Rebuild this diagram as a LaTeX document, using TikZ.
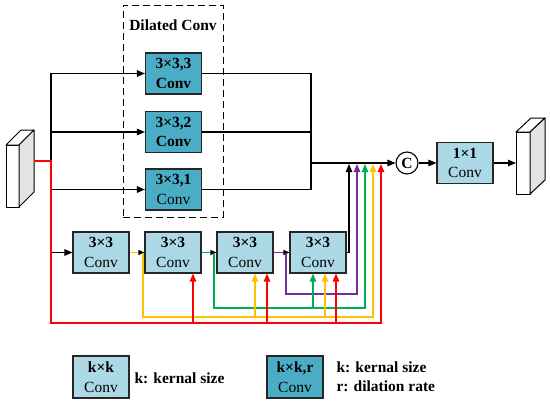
\documentclass[tikz,border=0pt]{standalone}
\usepackage{fontspec}
\setmainfont{Liberation Serif}
\usetikzlibrary{arrows.meta,calc}
\definecolor{lightc}{HTML}{ADD8E6}
\definecolor{darkc}{HTML}{4BACC6}
\definecolor{lred}{HTML}{FF0000}
\definecolor{lyel}{HTML}{FFC000}
\definecolor{lgreen}{HTML}{00B050}
\definecolor{lpurp}{HTML}{7030A0}
\newcommand{\boxfont}{\fontsize{15.5}{19.5}\selectfont}
\newcommand{\labfont}{\fontsize{15.5}{19}\selectfont\bfseries}
\tikzset{
  lbox/.style={draw=black!85, line width=1.1pt, fill=lightc, minimum width=56pt, minimum height=41pt, inner sep=0pt, align=center, font=\boxfont},
  dbox/.style={lbox, fill=darkc},
  ln/.style={line width=1.2pt},
  ar/.style={ln, -{Triangle[length=8pt,width=6.5pt]}},
  arb/.style={ln, -{Triangle[length=6pt,width=5pt,color=black]}},
  cube/.style={draw=black, line width=1pt, line join=round}
}
\begin{document}
\begin{tikzpicture}[x=1pt,y=-1pt]
\useasboundingbox (0,0) rectangle (550,402);
% dilated conv group
\node[draw, dash pattern=on 7pt off 4pt, line width=1pt, minimum width=100pt, minimum height=212pt, inner sep=0pt] (dil) at (173,111) {};
\node[font=\labfont] (diltitle) at (173,25) {Dilated Conv};
\node[dbox] (d3) at (173.5,73.5) {\textbf{3×3,3}\\\textbf{Conv}};
\node[dbox] (d2) at (173.5,132) {\textbf{3×3,2}\\\textbf{Conv}};
\node[dbox] (d1) at (173.5,189.5) {\textbf{3×3,1}\\Conv};
% bottom convs
\node[lbox] (b1) at (101,252.5) {\textbf{3×3}\\Conv};
\node[lbox] (b2) at (173,252.5) {\textbf{3×3}\\Conv};
\node[lbox] (b3) at (245,252.5) {\textbf{3×3}\\Conv};
\node[lbox] (b4) at (318,252.5) {\textbf{3×3}\\Conv};
% concat and 1x1
\node[draw, circle, line width=1.1pt, minimum size=22pt, inner sep=0pt, font=\boxfont] (cc) at (407,163) {\textbf{C}};
\node[lbox] (c1) at (465,163) {\textbf{1×1}\\Conv};
% input cuboid
\filldraw[cube, fill=white] (6,145) rectangle (19,207);
\filldraw[cube, fill=white] (6,145) -- (21,130) -- (34,130) -- (19,145) -- cycle;
\filldraw[cube, fill=gray!22] (19,145) -- (34,130) -- (34,192) -- (19,207) -- cycle;
% output cuboid
\filldraw[cube, fill=white] (516,132) rectangle (530,194);
\filldraw[cube, fill=white] (516,132) -- (531,118) -- (545,118) -- (530,132) -- cycle;
\filldraw[cube, fill=gray!22] (530,132) -- (545,118) -- (545,180) -- (530,194) -- cycle;
% coordinates
\coordinate (in) at (34,161);
\coordinate (j1) at (51,161);
\coordinate (jr) at (51,323);
\coordinate (out) at (516,163);
\coordinate (m) at (311,163);
\coordinate (kT) at (349,164);
\coordinate (pT) at (357,164);
\coordinate (gT) at (365,164);
\coordinate (yT) at (373,164);
\coordinate (rT) at (381,164);
\coordinate (y0) at (143,252.5);
\coordinate (yB) at (143,317);
\coordinate (g0) at (214,252.5);
\coordinate (gB) at (214,308);
\coordinate (p0) at (286,252.5);
\coordinate (pB) at (286,294);
% black branches
\draw[ar] (j1) |- (d3.west);
\draw[ar] (j1) |- (d2.west);
\draw[ar] (j1) |- (d1.west);
\draw[ar] (j1) |- (b1.west);
\draw[ln] (d3.east) -| (m);
\draw[ln] (d2.east) -| (m);
\draw[ln] (d1.east) -| (m);
\draw[ar] (m) -- (cc.west);
\draw[ar] (cc.east) -- (c1.west);
\draw[ar] (c1.east) -- (out);
% black from b4
\draw[ar] (b4.east) -| (kT);
% purple
\draw[arb, lpurp] (b3.east) -- (b4.west);
\draw[ar, lpurp] (p0) -- (pB) -| (pT);
% green
\draw[arb, lgreen] (b2.east) -- (b3.west);
\draw[ar, lgreen] (g0) -- (gB) -| (gT);
\draw[ar, lgreen] ([xshift=-5pt]b4.south |- gB) -- ([xshift=-5pt]b4.south);
% yellow
\draw[arb, lyel] (b1.east) -- (b2.west);
\draw[ar, lyel] (y0) -- (yB) -| (yT);
\draw[ar, lyel] ([xshift=10pt]b3.south |- yB) -- ([xshift=10pt]b3.south);
\draw[ar, lyel] ([xshift=7pt]b4.south |- yB) -- ([xshift=7pt]b4.south);
% red
\draw[ar, lred] (in) -- (j1) -- (jr) -| (rT);
\draw[ar, lred] ([xshift=20pt]b2.south |- jr) -- ([xshift=20pt]b2.south);
\draw[ar, lred] ([xshift=22pt]b3.south |- jr) -- ([xshift=22pt]b3.south);
\draw[ar, lred] ([xshift=18pt]b4.south |- jr) -- ([xshift=18pt]b4.south);
% legend
\node[lbox, minimum height=42pt] (l1) at (101,377) {\textbf{k×k}\\Conv};
\node[font=\labfont, anchor=west] (l1t) at (131,378) {k: kernal size};
\node[dbox, minimum height=42pt] (l2) at (295,377) {\textbf{k×k,r}\\Conv};
\node[font=\labfont, anchor=west, align=left] (l2t) at (333,376.5) {k: kernal size\\r: dilation rate};
\end{tikzpicture}
\end{document}
